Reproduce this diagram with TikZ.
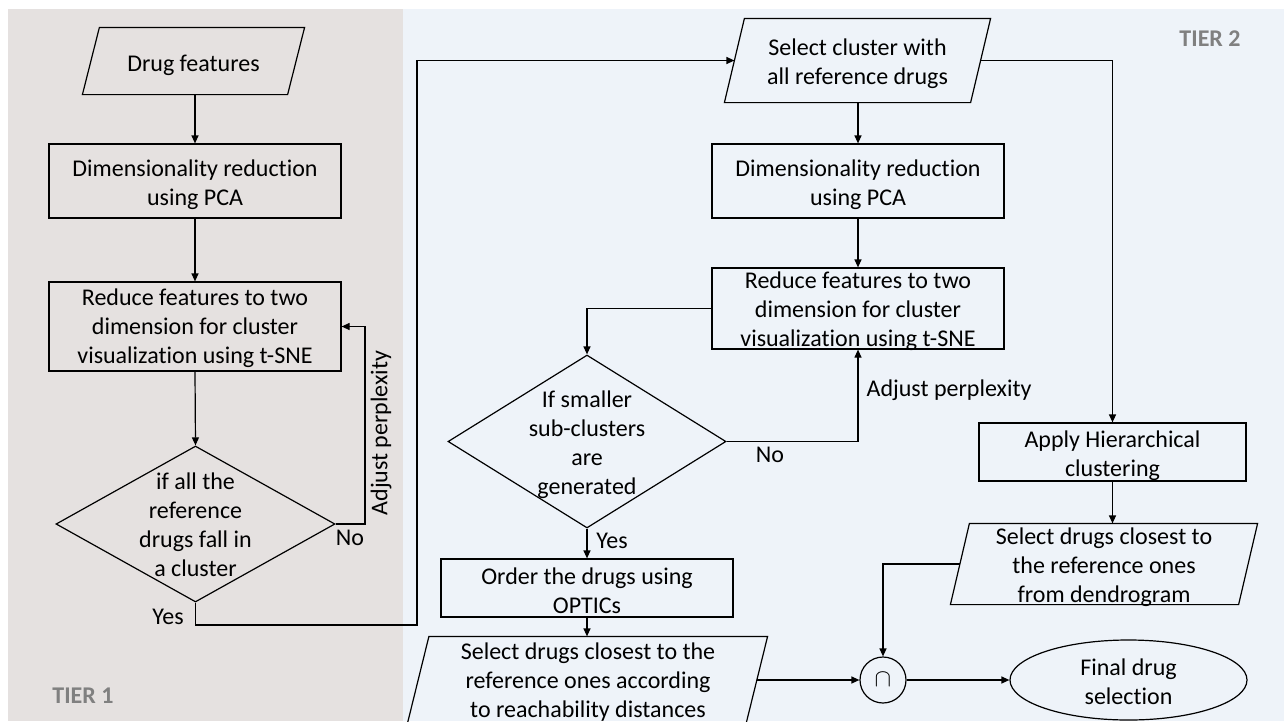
\documentclass[tikz,border=0pt]{standalone}
\usepackage{fontspec}
\setmainfont{Carlito}[Ligatures={NoCommon}]
\usetikzlibrary{shapes.geometric,arrows.meta,calc}
\definecolor{graybg}{RGB}{229,225,224}
\definecolor{bluebg}{RGB}{238,243,249}
\definecolor{tiergray}{RGB}{128,128,128}
\newcommand\mypara[2]{%
  \draw ($(#1.north west)+(#2,0)$) -- (#1.north east) -- ($(#1.south east)-(#2,0)$) -- (#1.south west) -- cycle;
  \coordinate (#1-l) at ($(#1.west)+(#2/2,0)$);
  \coordinate (#1-r) at ($(#1.east)-(#2/2,0)$);}
\begin{document}
\begin{tikzpicture}[x=1pt,y=-1pt,
  font=\fontsize{24}{29}\selectfont,
  line width=1.2pt,
  box/.style={draw, rectangle, inner sep=0pt},
  parabox/.style={rectangle, inner sep=0pt},
  dec/.style={draw, diamond, inner sep=0pt},
  txt/.style={inner sep=0pt, align=center},
  arr/.style={-{Triangle[length=8pt,width=7pt]}},
  tier/.style={inner sep=0pt, text=tiergray, font=\fontsize{24}{29}\selectfont\bfseries}
]
\useasboundingbox (0,0) rectangle (1288,721);
\fill[white] (0,0) rectangle (1288,721);
\fill[graybg] (8,9) rectangle (403,721);
\fill[bluebg] (403,9) rectangle (1284,721);

% ---------- TIER 1 ----------
\node[parabox, minimum width=221, minimum height=66] (df) at (193.5,61) {};
\mypara{df}{17}
\node[txt, yshift=-4pt] (dft) at (df.center) {Drug features};
\node[box, minimum width=292, minimum height=74] (pca1) at (195,181) {};
\node[txt, yshift=-4pt] (pca1t) at (pca1.center) {Dimensionality reduction\\using PCA};
\node[box, minimum width=292, minimum height=89] (ts1) at (195,326.5) {};
\node[txt, yshift=-2pt] (ts1t) at (ts1.center) {Reduce features to two\\dimension for cluster\\visualization using t-SNE};
\node[dec, minimum width=279, minimum height=156] (d1) at (195.5,524) {};
\node[txt, yshift=-1pt] (d1t) at (d1.center) {if all the\\reference\\drugs fall in\\a cluster};
\node[tier] (tier1) at (83,696) {TIER 1};

% ---------- TIER 2 ----------
\node[parabox, minimum width=265, minimum height=83] (sel) at (857.5,60.5) {};
\mypara{sel}{20}
\node[txt, yshift=-3pt] (selt) at (sel.center) {Select cluster with\\all reference drugs};
\node[box, minimum width=292, minimum height=74] (pca2) at (858,181) {};
\node[txt, yshift=-4pt] (pca2t) at (pca2.center) {Dimensionality reduction\\using PCA};
\node[box, minimum width=292, minimum height=81] (ts2) at (858,308.5) {};
\node[txt, yshift=-3pt] (ts2t) at (ts2.center) {Reduce features to two\\dimension for cluster\\visualization using t-SNE};
\node[dec, minimum width=278, minimum height=173] (d2) at (587,441.5) {};
\node[txt, yshift=-3pt] (d2t) at (d2.center) {If smaller\\sub-clusters\\are\\generated};
\node[box, minimum width=292, minimum height=58] (opt) at (587,588) {};
\node[txt, yshift=-2.5pt] (optt) at (opt.center) {Order the drugs using\\OPTICs};
\node[parabox, minimum width=359, minimum height=86] (sd) at (587.5,680) {};
\mypara{sd}{21.5}
\node[txt, yshift=-1pt] (sdt) at (588,681) {Select drugs closest to the\\reference ones according\\to reachability distances};
\node[circle, draw, minimum size=46, inner sep=0pt] (cap) at (883,680) {};
\node[txt] (capt) at (cap.center) {\fontsize{30}{30}\selectfont$\cap$};
\node[box, minimum width=267, minimum height=58] (hc) at (1112.5,452) {};
\node[txt, yshift=-4pt] (hct) at (hc.center) {Apply Hierarchical\\clustering};
\node[parabox, minimum width=306, minimum height=80] (dd) at (1104,564) {};
\mypara{dd}{19}
\node[txt, yshift=-2pt] (ddt) at (1104,565) {Select drugs closest to\\the reference ones\\from dendrogram};
\node[ellipse, draw, minimum width=237, minimum height=80, inner sep=0pt] (fin) at (1128.5,680) {};
\node[txt, yshift=-0.5pt] (fint) at (1128.5,681) {Final drug\\selection};
\node[tier] (tier2) at (1210,39) {TIER 2};

% ---------- connectors ----------
\draw[arr] (pca1.north |- df.south) -- (pca1.north);
\draw[arr] (pca1.south) -- (ts1.north);
\draw[arr] (ts1.south) -- (d1.north);
\coordinate (n1) at (365,524);
\draw[arr] (d1.east) -- (n1) |- (ts1.east);
\node[txt] (n1lab) at (350,538) {No};
\node[txt, rotate=90] (ap1) at (381,433) {Adjust perplexity};
\coordinate (y1) at (417,625);
\draw[arr] (d1.south) |- (y1) |- (sel-l);
\node[txt] (y1lab) at (168,617) {Yes};

\draw[arr] (pca2.north |- sel.south) -- (pca2.north);
\draw[arr] (pca2.south) -- (ts2.north);
\draw[arr] (ts2.west) -| (d2.north);
\draw[arr] (d2.east) -| (ts2.south);
\node[txt] (n2lab) at (770,455) {No};
\node[txt, anchor=west] (ap2) at (866,390) {Adjust perplexity};
\draw[arr] (d2.south) -- (opt.north);
\node[txt] (y2lab) at (612,541) {Yes};
\draw[arr] (opt.south) -- (opt.south |- sd.north);
\draw[arr] (sd-r) -- (cap.west);
\draw[arr] (sel-r) -| (hc.north);
\draw[arr] (hc.south) -- (hc.south |- dd.north);
\draw[arr] (dd-l) -| (cap.north);
\draw[arr] (cap.east) -- (fin.west);
\end{tikzpicture}
\end{document}
